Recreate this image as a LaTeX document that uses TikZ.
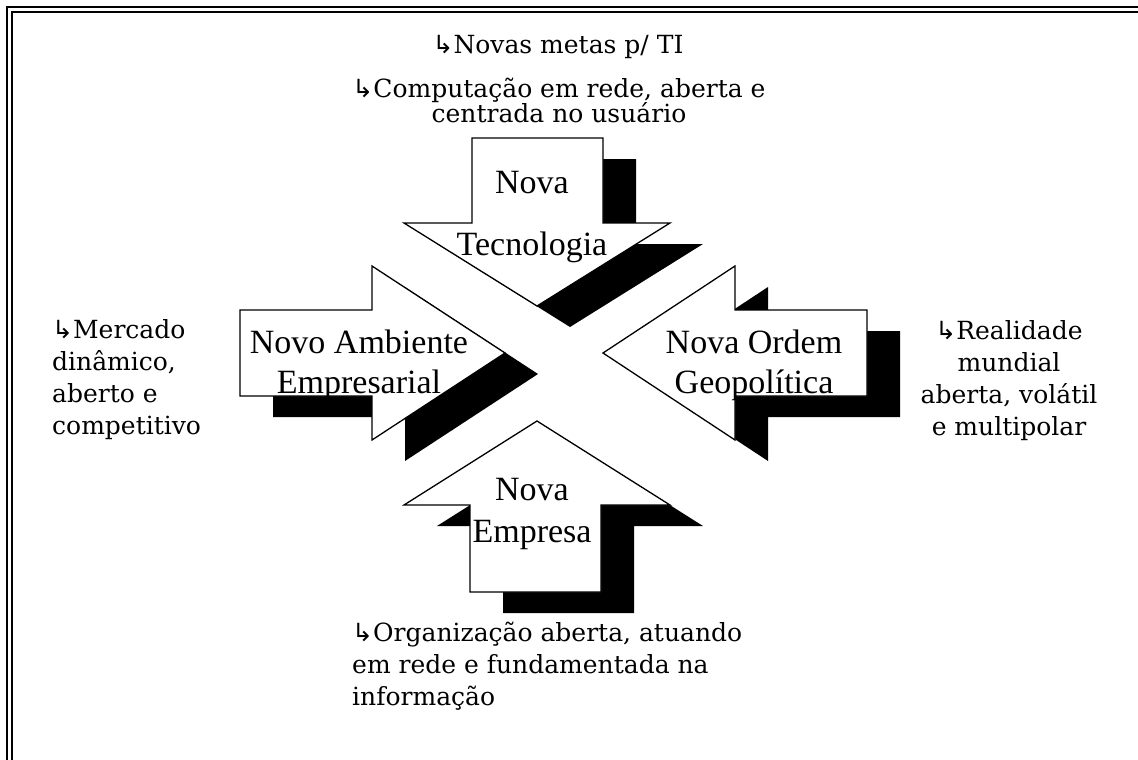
\documentclass[tikz,border=0pt]{standalone}
\usepackage{fontspec}
\setmainfont{Liberation Serif}
\newfontfamily\notefont{DejaVu Serif}
\newfontfamily\symbfont{DejaVu Sans}
\usepackage{tikz}

\newcommand{\hookmark}{{\symbfont ↳}}

\tikzset{
  arrowbox/.style={draw=black, fill=white, line width=1.3pt},
  shadowbox/.style={fill=black},
  arrowtext/.style={font=\fontsize{34}{40}\selectfont, align=center, inner sep=0pt, anchor=base},
  notetext/.style={font=\notefont\fontsize{25}{32}\selectfont, inner sep=0pt, anchor=base},
  frameline/.style={line width=2.3pt}
}

\begin{document}
\begin{tikzpicture}[x=1pt, y=-1pt]

    \useasboundingbox (0,0) rectangle (1138,760);

    % frame
    \draw[frameline] (7,760) -- (7,7) -- (1138,7);
    \draw[frameline] (12,760) -- (12,12) -- (1138,12);

    % Nova Tecnologia
    \begin{scope}[shift={(33,21)}]
      \fill[shadowbox] (472,138) -- (603,138) -- (603,223) -- (670,223) -- (537,306) -- (404,223) -- (472,223) -- cycle;
    \end{scope}
    \draw[arrowbox] (472,138) -- (603,138) -- (603,223) -- (670,223) -- (537,306) -- (404,223) -- (472,223) -- cycle;

    % Novo Ambiente Empresarial
    \begin{scope}[shift={(33,21)}]
      \fill[shadowbox] (240,310) -- (372,310) -- (372,266) -- (505,353) -- (372,440) -- (372,396) -- (240,396) -- cycle;
    \end{scope}
    \draw[arrowbox] (240,310) -- (372,310) -- (372,266) -- (505,353) -- (372,440) -- (372,396) -- (240,396) -- cycle;

    % Nova Ordem Geopolitica
    \begin{scope}[shift={(33,21)}]
      \fill[shadowbox] (867,310) -- (735,310) -- (735,266) -- (603,353) -- (735,440) -- (735,396) -- (867,396) -- cycle;
    \end{scope}
    \draw[arrowbox] (867,310) -- (735,310) -- (735,266) -- (603,353) -- (735,440) -- (735,396) -- (867,396) -- cycle;

    % Nova Empresa
    \begin{scope}[shift={(33,21)}]
      \fill[shadowbox] (470,592) -- (601,592) -- (601,505) -- (670,505) -- (537,421) -- (404,505) -- (470,505) -- cycle;
    \end{scope}
    \draw[arrowbox] (470,592) -- (601,592) -- (601,505) -- (670,505) -- (537,421) -- (404,505) -- (470,505) -- cycle;

    % arrow labels (anchored on the last line)
    \node[arrowtext] (tec) at (532,255) {Nova\\[22pt]Tecnologia};
    \node[arrowtext] (amb) at (359,393) {Novo Ambiente\\Empresarial};
    \node[arrowtext] (geo) at (754,393) {Nova Ordem\\Geopolítica};
    \node[arrowtext] (emp) at (532,542) {Nova\\[2pt]Empresa};

    % notes
    \node[notetext] (metas) at (558,54) {\hookmark Novas metas p/ TI};
    \node[notetext, align=center] (comp) at (559,122) {\hookmark Computação em rede, aberta e\\[-7pt]centrada no usuário};
    \node[notetext, align=left, anchor=base west] (merc) at (52,434) {\hookmark Mercado\\dinâmico,\\aberto e\\competitivo};
    \node[notetext, align=center] (real) at (1009,435) {\hookmark Realidade\\mundial\\aberta, volátil\\e multipolar};
    \node[notetext, align=left, anchor=base west] (org) at (352,705) {\hookmark Organização aberta, atuando\\em rede e fundamentada na\\informação};

\end{tikzpicture}
\end{document}
